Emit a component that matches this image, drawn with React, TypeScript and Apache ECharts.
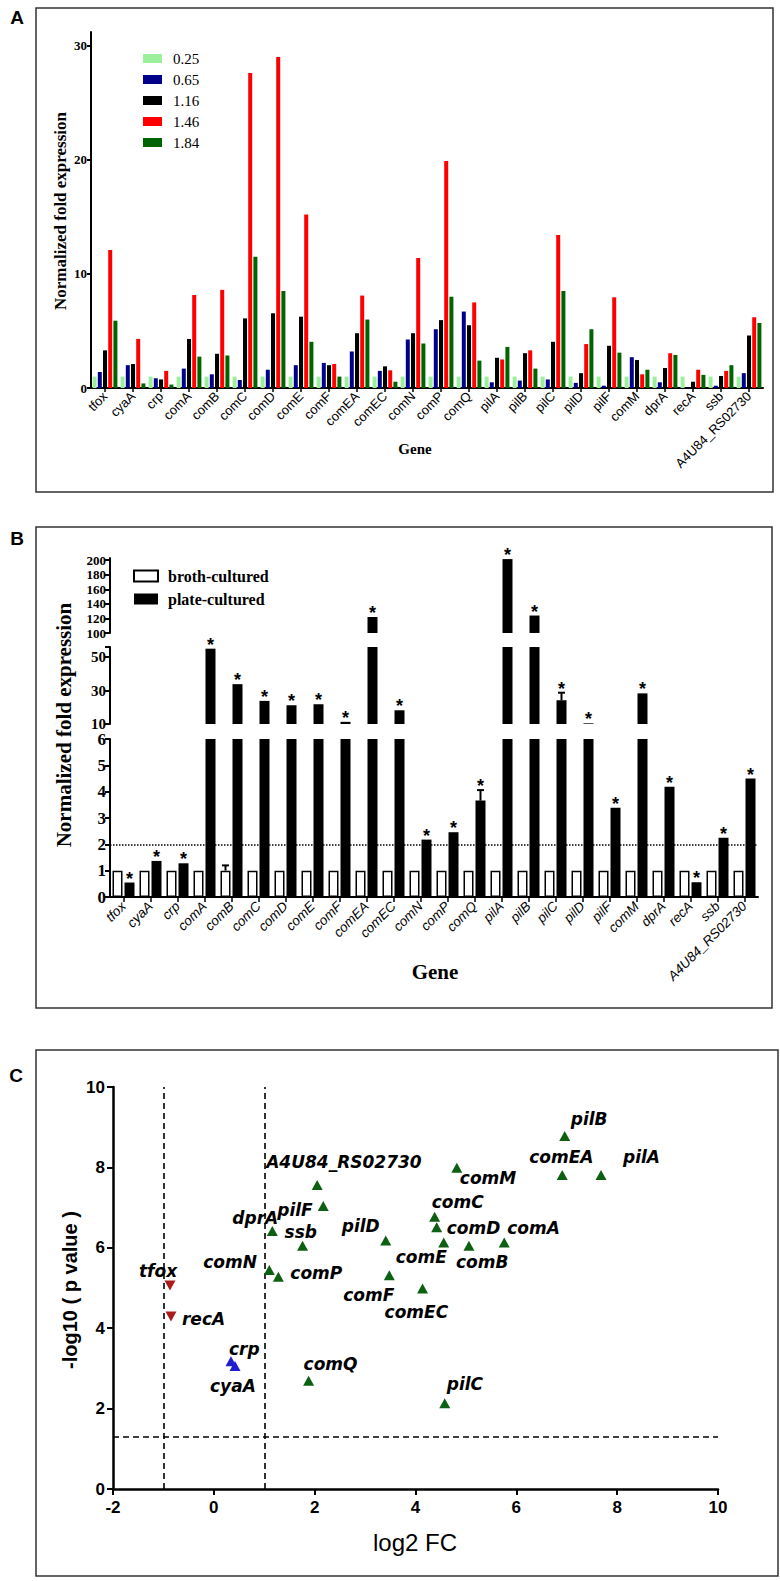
import React, { useEffect, useRef } from "react";
import * as echarts from "echarts";

// ---------- data ----------
const genes = ["tfox", "cyaA", "crp", "comA", "comB", "comC", "comD", "comE", "comF", "comEA", "comEC", "comN", "comP", "comQ", "pilA", "pilB", "pilC", "pilD", "pilF", "comM", "dprA", "recA", "ssb", "A4U84_RS02730"];

// Panel A: normalized fold expression at each OD
const odNames = ["0.25", "0.65", "1.16", "1.46", "1.84"];
const od025 = [1, 1, 1, 1, 1, 1, 1, 1, 1, 1, 1, 1, 1, 1, 1, 1, 1, 1, 1, 1, 1, 1, 1, 1];
const od065 = [1.4, 2.0, 0.85, 1.7, 1.2, 0.7, 1.6, 2.0, 2.2, 3.2, 1.5, 4.25, 5.15, 6.7, 0.5, 0.65, 0.75, 0.45, 0.2, 2.7, 0.5, 0.05, 0.2, 1.3];
const od116 = [3.3, 2.1, 0.75, 4.3, 3.0, 6.1, 6.55, 6.25, 2.0, 4.8, 1.9, 4.8, 5.95, 5.5, 2.65, 3.05, 4.05, 1.3, 3.7, 2.45, 1.75, 0.55, 1.05, 4.6];
const od146 = [12.1, 4.3, 1.5, 8.15, 8.6, 27.6, 29.0, 15.2, 2.1, 8.1, 1.55, 11.4, 19.9, 7.5, 2.5, 3.3, 13.4, 3.85, 7.95, 1.2, 3.05, 1.6, 1.5, 6.2];
const od184 = [5.9, 0.4, 0.3, 2.75, 2.85, 11.5, 8.5, 4.05, 1.0, 6.0, 0.55, 3.9, 8.0, 2.4, 3.6, 1.7, 8.5, 5.15, 3.1, 1.6, 2.9, 1.15, 2.0, 5.7];

// Panel B: broth vs plate
const brothValues = [1, 1, 1, 1, 1, 1, 1, 1, 1, 1, 1, 1, 1, 1, 1, 1, 1, 1, 1, 1, 1, 1, 1, 1];
const brothErr = [0, 0, 0, 0, 0.2, 0, 0, 0, 0, 0, 0, 0, 0, 0, 0, 0, 0, 0, 0, 0, 0, 0, 0, 0];
const plateValues = [0.55, 1.37, 1.28, 55, 33.8, 23.8, 21.2, 21.8, 11.3, 122, 18.2, 2.18, 2.46, 3.66, 201.5, 124, 24.2, 10.4, 3.39, 28.3, 4.19, 0.56, 2.25, 4.5];
const plateErr = [0, 0, 0, 0, 0, 0, 0, 0, 0, 0, 0, 0, 0, 0.4, 0, 0, 4.5, 0, 0, 0, 0, 0, 0, 0];

// Panel C: volcano
const log2FC = [-0.87, 0.42, 0.34, 5.76, 5.06, 4.38, 4.42, 4.56, 3.48, 6.91, 4.14, 1.10, 1.28, 1.88, 7.68, 6.96, 4.58, 3.41, 2.17, 4.82, 1.16, -0.85, 1.76, 2.05];
const negLog10P = [5.06, 3.06, 3.18, 6.13, 6.05, 6.77, 6.51, 6.13, 5.32, 7.81, 4.99, 5.45, 5.28, 2.69, 7.81, 8.78, 2.13, 6.18, 7.04, 7.99, 6.42, 4.29, 6.05, 7.56];
const regulation = ["down", "nc", "nc", "up", "up", "up", "up", "up", "up", "up", "up", "up", "up", "up", "up", "up", "up", "up", "up", "up", "up", "down", "up", "up"];

// label placement (layout only)
const labelOffsets = [[-31, -15], [-25, 20], [-2, -12], [3, -15], [-13, 16], [-3, -15], [10, 1], [-48, 14], [-46, 20], [-33, -18], [-38, 24], [-66, -8], [12, -4], [-5, -17], [22, -18], [6, -17], [2, -19], [-44, -15], [-46, 4], [3, 10], [-40, -13], [11, 2], [-18, -14], [-51, -23]];

// ---------- styles ----------
const serif = "'Liberation Serif', 'Times New Roman', serif";
const sans = "'Liberation Sans', Arial, sans-serif";
const narrow = "'Liberation Sans Narrow', 'Liberation Sans', Arial, sans-serif";
const dejavu = "'DejaVu Sans', Verdana, sans-serif";
const odColors = ["#9cf09c", "#00008b", "#000000", "#ff0000", "#006400"];

const segs = [
  { grid: 1, min: 100, max: 203, top: 558, height: 75, ticks: [100, 120, 140, 160, 180, 200], labels: [100, 120, 140, 160, 180, 200], fs: 13 },
  { grid: 2, min: 10, max: 56, top: 647, height: 77, ticks: [10, 30, 50, 56], labels: [10, 30, 50], fs: 15 },
  { grid: 3, min: 0, max: 6, top: 739, height: 158, ticks: [0, 1, 2, 3, 4, 5, 6], labels: [0, 1, 2, 3, 4, 5, 6], fs: 17 },
];

function buildOption(): any {
  const grids: any[] = [
    { left: 91, top: 32, width: 672, height: 356 },
    ...segs.map((s) => ({ left: 110, top: s.top, width: 648, height: s.height })),
    { left: 113, top: 1087, width: 605, height: 402 },
  ];

  const axisLine = (w: number) => ({ show: true, onZero: false, lineStyle: { color: "#000", width: w } });

  const xAxis: any[] = [
    {
      type: "category", gridIndex: 0, data: genes,
      axisLine: axisLine(2),
      axisTick: { show: true, alignWithLabel: true, length: 4, lineStyle: { color: "#000", width: 1.5 } },
      axisLabel: { rotate: 45, interval: 0, fontFamily: sans, fontSize: 13, color: "#000", margin: 6 },
    },
    { type: "category", gridIndex: 1, data: genes, show: false },
    { type: "category", gridIndex: 2, data: genes, show: false },
    {
      type: "category", gridIndex: 3, data: genes,
      axisLine: axisLine(2),
      axisTick: { show: true, alignWithLabel: true, length: 5, lineStyle: { color: "#000", width: 1.5 } },
      axisLabel: { rotate: 45, interval: 0, fontFamily: sans, fontStyle: "italic", fontSize: 13.5, color: "#000", margin: 7 },
    },
    {
      type: "value", gridIndex: 4, min: -2, max: 10, interval: 2,
      axisLine: axisLine(2.5),
      axisTick: { show: true, length: 6, lineStyle: { color: "#000", width: 2 } },
      axisLabel: { fontFamily: narrow, fontWeight: "bold", fontSize: 17, color: "#000", margin: 10 },
      splitLine: { show: false },
    },
  ];

  const yAxis: any[] = [
    {
      type: "value", gridIndex: 0, min: 0, max: 31.2,
      axisLine: axisLine(2),
      axisTick: { show: true, length: 4, customValues: [0, 10, 20, 30], lineStyle: { color: "#000", width: 2 } },
      axisLabel: { customValues: [0, 10, 20, 30], fontFamily: serif, fontWeight: "bold", fontSize: 13, color: "#000", margin: 4 },
      splitLine: { show: false },
    },
    ...segs.map((s) => ({
      type: "value", gridIndex: s.grid, min: s.min, max: s.max,
      axisLine: axisLine(2),
      axisTick: { show: true, length: 5, customValues: s.ticks, lineStyle: { color: "#000", width: 2 } },
      axisLabel: { customValues: s.labels, fontFamily: serif, fontWeight: "bold", fontSize: s.fs, color: "#000", margin: 4 },
      splitLine: { show: false },
    })),
    {
      type: "value", gridIndex: 4, min: 0, max: 10, interval: 2,
      axisLine: axisLine(2.5),
      axisTick: { show: true, length: 6, lineStyle: { color: "#000", width: 2 } },
      axisLabel: { fontFamily: narrow, fontWeight: "bold", fontSize: 17, color: "#000", margin: 8 },
      splitLine: { show: false },
    },
  ];

  const series: any[] = [];

  // Panel A bars
  [od025, od065, od116, od146, od184].forEach((d, k) => {
    series.push({
      type: "bar", name: odNames[k], xAxisIndex: 0, yAxisIndex: 0, data: d,
      barWidth: 4, barGap: "30%", itemStyle: { color: odColors[k] },
    });
  });

  // Panel B bars per broken-axis segment
  segs.forEach((s) => {
    series.push({
      type: "bar", name: "broth-cultured", xAxisIndex: s.grid, yAxisIndex: s.grid, data: brothValues,
      barWidth: 10, barGap: "20%", clip: true,
      itemStyle: { color: "#ffffff", borderColor: "#000", borderWidth: 1.5 },
    });
    const plate: any = {
      type: "bar", name: "plate-cultured", xAxisIndex: s.grid, yAxisIndex: s.grid, data: plateValues,
      barWidth: 10, barGap: "20%", clip: true,
      itemStyle: { color: "#000" },
    };
    if (s.grid === 3) {
      plate.markLine = {
        silent: true, symbol: ["none", "none"], label: { show: false },
        lineStyle: { type: "dotted", color: "#000", width: 1.5 },
        data: [{ yAxis: 2 }],
      };
    }
    series.push(plate);

    // error bars
    const errData: any[] = [];
    genes.forEach((_, i) => {
      errData.push([i, brothValues[i], brothErr[i], -1]);
      errData.push([i, plateValues[i], plateErr[i], 1]);
    });
    series.push({
      type: "custom", xAxisIndex: s.grid, yAxisIndex: s.grid, data: errData, silent: true, z: 3,
      renderItem: (_p: any, api: any) => {
        const i = api.value(0), v = api.value(1), e = api.value(2), side = api.value(3);
        if (!(e > 0) || v < s.min || v + e > s.max) return null;
        const p0 = api.coord([i, v]);
        const p1 = api.coord([i, v + e]);
        const x = p0[0] + side * 6;
        return {
          type: "group",
          children: [
            { type: "line", shape: { x1: x, y1: p0[1], x2: x, y2: p1[1] }, style: { stroke: "#000", lineWidth: 2 } },
            { type: "line", shape: { x1: x - 3.5, y1: p1[1], x2: x + 3.5, y2: p1[1] }, style: { stroke: "#000", lineWidth: 2 } },
          ],
        };
      },
    });

    // significance asterisks
    series.push({
      type: "custom", xAxisIndex: s.grid, yAxisIndex: s.grid, silent: true, z: 4,
      data: genes.map((_, i) => [i, plateValues[i] + plateErr[i]]),
      renderItem: (_p: any, api: any) => {
        const top = api.value(1);
        if (top < s.min || top > s.max) return null;
        const p = api.coord([api.value(0), top]);
        return {
          type: "text", x: p[0] + 6, y: p[1] + 5,
          style: { text: "*", fontFamily: sans, fontWeight: "bold", fontSize: 18, fill: "#000", align: "center", verticalAlign: "bottom" },
        };
      },
    });
  });

  // Panel C volcano
  const groups = [
    { key: "up", color: "#0d5f12", rotate: 0 },
    { key: "down", color: "#a81c1c", rotate: 180 },
    { key: "nc", color: "#1f1fd0", rotate: 0 },
  ];
  groups.forEach((g, gi) => {
    const data: any[] = [];
    genes.forEach((name, i) => {
      if (regulation[i] !== g.key) return;
      data.push({ name, value: [log2FC[i], negLog10P[i]], label: { offset: labelOffsets[i] } });
    });
    const sr: any = {
      type: "scatter", name: "volcano-" + g.key, xAxisIndex: 4, yAxisIndex: 4, data,
      symbol: "triangle", symbolSize: [11, 10], symbolRotate: g.rotate,
      itemStyle: { color: g.color, opacity: 1 }, z: 5,
      label: {
        show: true, formatter: "{b}", position: "inside", align: "left", verticalAlign: "middle",
        fontFamily: dejavu, fontWeight: "bold", fontStyle: "italic", fontSize: 17, color: "#000",
      },
    };
    if (gi === 0) {
      sr.markLine = {
        silent: true, symbol: ["none", "none"], label: { show: false }, z: 1,
        lineStyle: { type: [6, 4], color: "#000", width: 1.6 },
        data: [{ xAxis: -1 }, { xAxis: 1 }, { yAxis: 1.3 }],
      };
    }
    series.push(sr);
  });

  const box = (x: number, y: number, w: number, h: number) => ({
    type: "rect", shape: { x, y, width: w, height: h }, silent: true,
    style: { fill: "none", stroke: "#333", lineWidth: 1.5 },
  });
  const txt = (x: number, y: number, text: string, font: any, rotation = 0) => ({
    type: "text", x, y, rotation, silent: true,
    style: { text, fill: "#000", align: "center", verticalAlign: "middle", ...font },
  });

  const graphic = [
    box(36, 8, 737, 484),
    box(36, 527, 736, 481),
    box(36, 1050, 742, 526),
    txt(17, 17, "A", { fontFamily: sans, fontWeight: "bold", fontSize: 19 }),
    txt(17, 538, "B", { fontFamily: sans, fontWeight: "bold", fontSize: 19 }),
    txt(16, 1075, "C", { fontFamily: sans, fontWeight: "bold", fontSize: 19 }),
    txt(60, 211, "Normalized fold expression", { fontFamily: serif, fontWeight: "bold", fontSize: 17 }, Math.PI / 2),
    txt(415, 449, "Gene", { fontFamily: serif, fontWeight: "bold", fontSize: 15 }),
    txt(64, 725, "Normalized fold expression", { fontFamily: serif, fontWeight: "bold", fontSize: 21 }, Math.PI / 2),
    txt(435, 972, "Gene", { fontFamily: serif, fontWeight: "bold", fontSize: 21 }),
    txt(70, 1290, "-log10 ( p value )", { fontFamily: sans, fontWeight: "bold", fontSize: 20 }, Math.PI / 2),
    txt(415, 1542, "log2 FC", { fontFamily: sans, fontSize: 24 }),
  ];

  return {
    animation: false,
    backgroundColor: "#ffffff",
    grid: grids,
    xAxis,
    yAxis,
    legend: [
      {
        data: odNames, left: 138, top: 46, orient: "vertical", icon: "rect",
        itemWidth: 19, itemHeight: 9, itemGap: 6, selectedMode: false,
        textStyle: { fontFamily: serif, fontSize: 15, color: "#000", lineHeight: 15, padding: [0, 0, 0, 6] },
      },
      {
        data: ["broth-cultured", "plate-cultured"], left: 128, top: 563, orient: "vertical", icon: "rect",
        itemWidth: 24, itemHeight: 11, itemGap: 7, selectedMode: false,
        textStyle: { fontFamily: serif, fontWeight: "bold", fontSize: 16, color: "#000", lineHeight: 16, padding: [0, 0, 0, 5] },
      },
    ],
    graphic,
    series,
  };
}

export default function App() {
  const ref = useRef<HTMLDivElement>(null);
  useEffect(() => {
    document.body.style.margin = "0";
    const chart = echarts.init(ref.current as HTMLDivElement, null, { renderer: "svg" });
    chart.setOption(buildOption());
    return () => chart.dispose();
  }, []);
  return <div ref={ref} style={{ width: 780, height: 1581 }} />;
}
